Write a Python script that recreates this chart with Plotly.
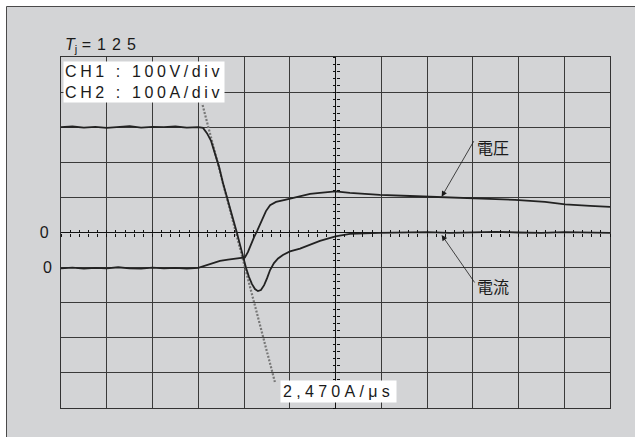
import plotly.graph_objects as go

# ---------------- data ----------------
# time axis: 0.2 us/div, 0 at screen centre
t_current = [-1.20, -1.15, -1.10, -1.05, -1.00, -0.95, -0.90, -0.85, -0.80, -0.75, -0.70, -0.65, -0.60,
             -0.579, -0.562, -0.544, -0.527, -0.509, -0.492, -0.474, -0.461, -0.444, -0.431, -0.417,
             -0.404, -0.391, -0.378, -0.365, -0.352, -0.339, -0.326, -0.312, -0.299, -0.286, -0.269,
             -0.251, -0.230, -0.199, -0.155, -0.112, -0.068, 0.0, 0.063, 0.19, 0.30, 0.40, 0.50,
             0.60, 0.70, 0.80, 0.90, 1.00, 1.10, 1.20]
i_current = [300, 302, 299, 301, 298, 300, 303, 299, 301, 300, 302, 299, 300,
             298, 283, 261, 226, 187, 141, 101, 73, 30, -1, -36,
             -70, -101, -127, -147, -161, -167, -164, -150, -130, -107, -87,
             -74, -64, -54, -46, -34, -24, -11, -4, -1, 0, 1, -1,
             0, 2, 0, -1, 1, 0, -1]

t_voltage = [-1.20, -1.15, -1.10, -1.05, -1.00, -0.95, -0.90, -0.85, -0.80, -0.75, -0.70, -0.65, -0.60,
             -0.570, -0.540, -0.505, -0.470, -0.439, -0.413, -0.396, -0.383, -0.369, -0.356, -0.343,
             -0.330, -0.317, -0.304, -0.286, -0.260, -0.221, -0.155, -0.111, -0.068, 0.0, 0.063,
             0.194, 0.326, 0.466, 0.632, 0.785, 0.916, 1.004, 1.113, 1.20]
v_voltage = [-2, 0, -3, -1, -2, 1, -2, -3, 0, -2, -1, -3, -1,
             5, 12, 19, 23, 26, 27, 29, 44, 67, 87, 104,
             124, 144, 161, 178, 187, 193, 204, 210, 213, 217, 213,
             207, 204, 200, 197, 193, 187, 180, 176, 173]

# di/dt guide line (2,470 A/us)
t_slope = [-0.581, -0.265]
i_slope = [363, -426]

x_range = [-1.2, 1.2]
i_range = [-500, 500]
v_range = [-400, 600]
x_div, i_div, v_div = 0.2, 100, 100

label_ch = ["CH1 : 100V/div", "CH2 : 100A/div"]
label_tj = "=125"
label_slope = "2,470A/μs"
label_v = "電圧"
label_i = "電流"

# ---------------- layout geometry ----------------
W, H = 635, 437
L, R, T, B = 61, 610, 57, 408
def px_x(px):
    return (px - L) / (R - L)
def px_y(py):
    return (B - py) / (B - T)

FONT = "Arial, Liberation Sans, sans-serif"
CJK = "Noto Sans CJK JP, sans-serif"
INK = "#1a1a1a"
GRID = "#3a3a3a"

fig = go.Figure()
fig.add_trace(go.Scatter(x=t_slope, y=i_slope, mode="lines", hoverinfo="skip",
                         line=dict(color="#777777", width=2.2, dash="2px,1.6px")))
fig.add_trace(go.Scatter(x=t_current, y=i_current, mode="lines", hoverinfo="skip",
                         line=dict(color="#222", width=1.8)))
fig.add_trace(go.Scatter(x=t_voltage, y=v_voltage, yaxis="y2", mode="lines", hoverinfo="skip",
                         line=dict(color="#222", width=1.8)))
# helper traces so the centre tick axes get drawn
for xa, ya in [("x2", "y"), ("x3", "y"), ("x", "y3"), ("x", "y4")]:
    fig.add_trace(go.Scatter(x=[0], y=[0], xaxis=xa, yaxis=ya, mode="markers",
                             marker=dict(opacity=0, size=1), hoverinfo="skip"))

i_ticks = list(range(i_range[0], i_range[1] + 1, i_div))

common_hidden = dict(showgrid=False, zeroline=False, showline=False, showticklabels=False)

fig.update_layout(
    width=W, height=H,
    margin=dict(l=L, r=W - R, t=T, b=H - B, pad=0),
    paper_bgcolor="white", plot_bgcolor="white",
    showlegend=False,
    xaxis=dict(range=x_range, tick0=0, dtick=x_div, showgrid=True, gridcolor=GRID, gridwidth=1,
               zeroline=True, zerolinecolor="#111", zerolinewidth=1.3,
               showline=True, mirror=True, linecolor="#333", linewidth=1.3,
               ticks="", showticklabels=False, fixedrange=True),
    yaxis=dict(range=i_range, tickvals=i_ticks, ticktext=["0" if v == 0 else "" for v in i_ticks],
               showgrid=True, gridcolor=GRID, gridwidth=1,
               zeroline=True, zerolinecolor="#111", zerolinewidth=1.3,
               showline=True, mirror=True, linecolor="#333", linewidth=1.3,
               ticks="", ticklabelstandoff=8, tickfont=dict(family=FONT, size=16, color=INK),
               fixedrange=True),
    yaxis2=dict(range=v_range, overlaying="y", side="left", tickvals=[0], ticktext=["0"],
                showgrid=False, zeroline=False, showline=False, ticks="", ticklabelstandoff=8,
                tickfont=dict(family=FONT, size=16, color=INK), fixedrange=True),
    xaxis2=dict(range=x_range, overlaying="x", anchor="free", position=0.5, tick0=0, dtick=x_div / 5,
                ticks="outside", ticklen=3, tickwidth=1, tickcolor="#111", **common_hidden),
    xaxis3=dict(range=x_range, overlaying="x", anchor="free", position=0.5, tick0=0, dtick=x_div / 5,
                ticks="inside", ticklen=3, tickwidth=1, tickcolor="#111", **common_hidden),
    yaxis3=dict(range=i_range, overlaying="y", anchor="free", position=0.5, tick0=0, dtick=i_div / 5,
                ticks="outside", ticklen=3, tickwidth=1, tickcolor="#111", **common_hidden),
    yaxis4=dict(range=i_range, overlaying="y", anchor="free", position=0.5, tick0=0, dtick=i_div / 5,
                ticks="inside", ticklen=3, tickwidth=1, tickcolor="#111", **common_hidden),
)

# grey panel behind the screen
fig.add_shape(type="rect", xref="paper", yref="paper", layer="below",
              x0=px_x(6.5), x1=px_x(720), y0=px_y(520), y1=px_y(6.5),
              fillcolor="#d3d4d6", line=dict(color="#4a4a4a", width=1))

def sp(txt, s):
    return f"<span style='letter-spacing:{s}px'>{txt}</span>"

anns = [
    dict(text="<i>T</i><sub>j</sub> " + sp(label_tj, 6), x=px_x(63), y=px_y(46),
         xanchor="left", yanchor="middle", font=dict(family=FONT, size=16, color=INK)),
    dict(text="<br>".join(sp(s, 3.6) for s in label_ch), x=px_x(63), y=px_y(61),
         xanchor="left", yanchor="top", align="left", bgcolor="white", borderpad=1,
         font=dict(family=FONT, size=16, color=INK)),
    dict(text=sp(label_slope, 4.3), x=px_x(280), y=px_y(391), xanchor="left", yanchor="middle",
         bgcolor="white", borderpad=2, font=dict(family=FONT, size=16, color=INK)),
    dict(text=label_v, x=px_x(475), y=px_y(147), xanchor="left", yanchor="middle",
         font=dict(family=CJK, size=16, color=INK)),
    dict(text=label_i, x=px_x(475), y=px_y(286), xanchor="left", yanchor="middle",
         font=dict(family=CJK, size=16, color=INK)),
]
for a in anns:
    fig.add_annotation(xref="paper", yref="paper", showarrow=False, **a)

# leader arrows
fig.add_annotation(x=0.464, y=202, xref="x", yref="y2", text="", showarrow=True,
                   ax=33, ay=-57, arrowhead=2, arrowsize=1.4, arrowwidth=0.8, arrowcolor=INK, standoff=0)
fig.add_annotation(x=0.464, y=-7, xref="x", yref="y", text="", showarrow=True,
                   ax=34, ay=49, arrowhead=2, arrowsize=1.4, arrowwidth=0.8, arrowcolor=INK, standoff=0)

fig.write_html("out.html")
